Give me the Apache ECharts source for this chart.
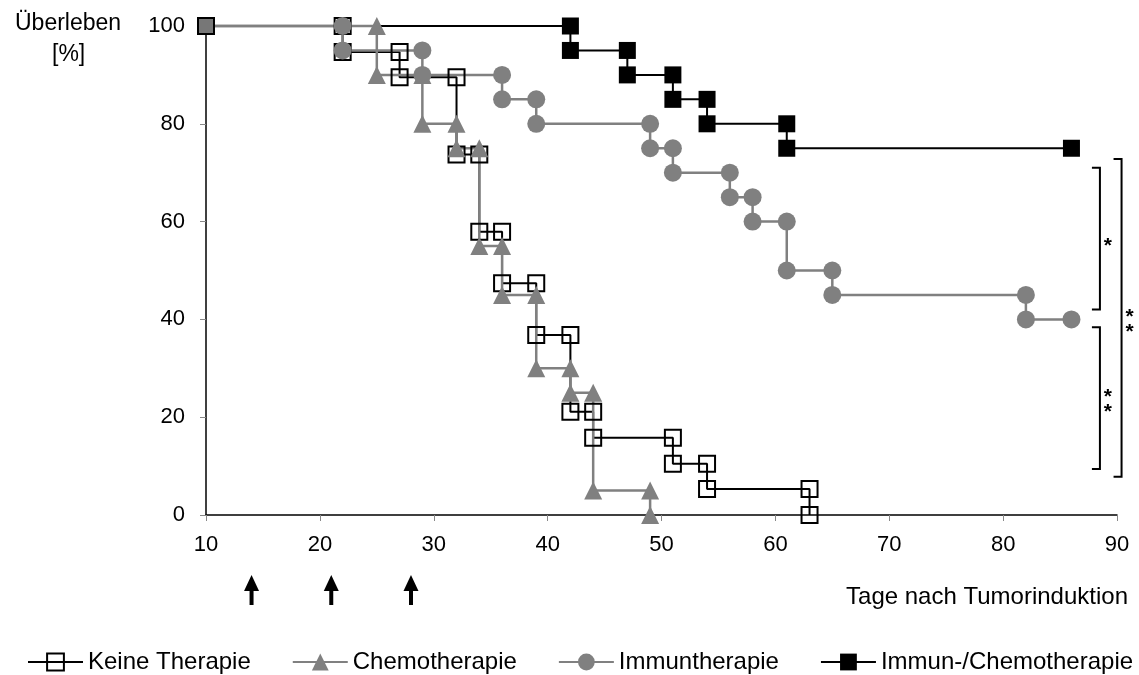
<!DOCTYPE html>
<html>
<head>
<meta charset="utf-8">
<script src="https://cdn.jsdelivr.net/npm/echarts@6/dist/echarts.min.js"></script>
<style>
  html, body { margin: 0; padding: 0; background: #fff; }
  #main { width: 1139px; height: 675px; }
</style>
</head>
<body>
<div id="main"></div>
<script>
// Kaplan-Meier data: event day and survival [%] right after the event
const startDay = 10;
const keineTimes = [22, 27, 32, 34, 36, 39, 42, 44, 51, 54, 63];
const keineSurv = [94.7, 89.5, 73.7, 57.9, 47.4, 36.8, 21.1, 15.8, 10.5, 5.3, 0];
const chemoTimes = [25, 29, 32, 34, 36, 39, 42, 44, 49];
const chemoSurv = [90, 80, 75, 55, 45, 30, 25, 5, 0];
const immunTimes = [22, 29, 36, 39, 49, 51, 56, 58, 61, 65, 82];
const immunSurv = [95, 90, 85, 80, 75, 70, 65, 60, 50, 45, 40];
const kombiTimes = [42, 47, 51, 54, 61];
const kombiSurv = [95, 90, 85, 80, 75];
const immunEnd = 86;
const kombiEnd = 86;

const seriesNames = ['Keine Therapie', 'Chemotherapie', 'Immuntherapie', 'Immun-/Chemotherapie'];
const therapyDays = [14, 21, 28];
// significance brackets: [x of vertical line, y top, y bottom, label]
const brackets = [
    [88.5, 71, 42, '*'],
    [88.5, 38.4, 9.4, '**'],
    [90.4, 72.8, 7.8, '**']
];

const gray = '#808080';

// turn event lists into step points (marker before and after each drop)
const stepPoints = (times, surv, endDay, showStart) => {
    let pts = [];
    pts.push(showStart ? { value: [startDay, 100], itemStyle: { color: '#777777' } }
                       : { value: [startDay, 100], symbol: 'none' });
    let prev = 100;
    for (const i in times) {
        pts.push([times[i], prev]);
        pts.push([times[i], surv[i]]);
        prev = surv[i];
    }
    if (endDay && endDay > times[times.length - 1]) {
        pts.push([endDay, prev]);
    }
    return pts;
};

var myChart = echarts.init(document.getElementById('main'));
const font = 'Liberation Sans, Arial, sans-serif';

myChart.setOption({
    animation: false,
    grid: { left: 206, right: 22, top: 26, bottom: 160, containLabel: false },
    xAxis: {
        type: 'value', min: 10, max: 90, interval: 10,
        axisLine: { lineStyle: { color: '#000', width: 1.5 } },
        axisTick: { show: true, length: 6, lineStyle: { color: '#888' } },
        axisLabel: { color: '#000', fontSize: 22, fontFamily: font, margin: 19 },
        splitLine: { show: false }
    },
    yAxis: {
        type: 'value', min: 0, max: 100, interval: 20,
        axisLine: { show: true, lineStyle: { color: '#000', width: 1.5 } },
        axisTick: { show: true, length: 6, lineStyle: { color: '#888' } },
        axisLabel: { color: '#000', fontSize: 22, fontFamily: font, margin: 21 },
        splitLine: { show: false }
    },
    legend: {
        data: seriesNames,
        orient: 'horizontal',
        top: 650,
        left: 27,
        width: 1112,
        padding: 0,
        itemWidth: 55,
        itemHeight: 21,
        itemGap: 41,
        textStyle: { fontSize: 24, fontFamily: font, color: '#000' }
    },
    series: [
        {
            name: 'Immun-/Chemotherapie', type: 'line',
            data: stepPoints(kombiTimes, kombiSurv, kombiEnd, false),
            symbol: 'rect', symbolSize: 17,
            lineStyle: { color: '#000', width: 2 },
            itemStyle: { color: '#000', borderColor: '#000', borderWidth: 0 },
            clip: false
        },
        {
            name: 'Keine Therapie', type: 'line',
            data: stepPoints(keineTimes, keineSurv, null, true),
            symbol: 'rect', symbolSize: 16,
            lineStyle: { color: '#000', width: 2 },
            itemStyle: { color: 'rgba(0,0,0,0)', borderColor: '#000', borderWidth: 2 },
            clip: false
        },
        {
            name: 'Chemotherapie', type: 'line',
            data: stepPoints(chemoTimes, chemoSurv, null, false),
            symbol: 'triangle', symbolSize: 18,
            lineStyle: { color: gray, width: 2.5 },
            itemStyle: { color: gray },
            clip: false
        },
        {
            name: 'Immuntherapie', type: 'line',
            data: stepPoints(immunTimes, immunSurv, immunEnd, false),
            symbol: 'circle', symbolSize: 18,
            lineStyle: { color: gray, width: 2.5 },
            itemStyle: { color: gray },
            clip: false
        }
    ]
});

// annotations placed through the chart's own scales
const px = (x, y) => myChart.convertToPixel({ gridIndex: 0 }, [x, y]);
let graphic = [
    { type: 'text', left: 15, top: 12, style: { text: 'Überleben', fontSize: 23, fontFamily: font, fill: '#000' } },
    { type: 'text', left: 52, top: 43, style: { text: '[%]', fontSize: 23, fontFamily: font, fill: '#000' } },
    { type: 'text', right: 11, top: 585, style: { text: 'Tage nach Tumorinduktion', fontSize: 24, fontFamily: font, fill: '#000' } }
];
therapyDays.forEach((d) => {
    const x = px(d, 0)[0];
    graphic.push({
        type: 'polygon',
        shape: { points: [[x, 575], [x - 7.5, 591], [x + 7.5, 591]] },
        style: { fill: '#000' }
    });
    graphic.push({
        type: 'rect',
        shape: { x: x - 2, y: 589, width: 4, height: 16 },
        style: { fill: '#000' }
    });
});
brackets.forEach((b, i) => {
    const top = px(b[0], b[1]);
    const bot = px(b[0], b[2]);
    const w = 8;
    graphic.push({
        type: 'polyline',
        shape: { points: [[top[0] - w, top[1]], [top[0], top[1]], [bot[0], bot[1]], [bot[0] - w, bot[1]]] },
        style: { stroke: '#000', lineWidth: 2, fill: null }
    });
    const midY = (top[1] + bot[1]) / 2;
    const stars = b[3].split('');
    stars.forEach((s, k) => {
        const y = midY + (k - (stars.length - 1) / 2) * 15;
        graphic.push({
            type: 'text',
            x: top[0] + 8, y: y + 7,
            style: { text: s, fontSize: 21, fontWeight: 'bold', fontFamily: font, fill: '#000', align: 'center', verticalAlign: 'middle' }
        });
    });
});
myChart.setOption({ graphic: graphic });
</script>
</body>
</html>
